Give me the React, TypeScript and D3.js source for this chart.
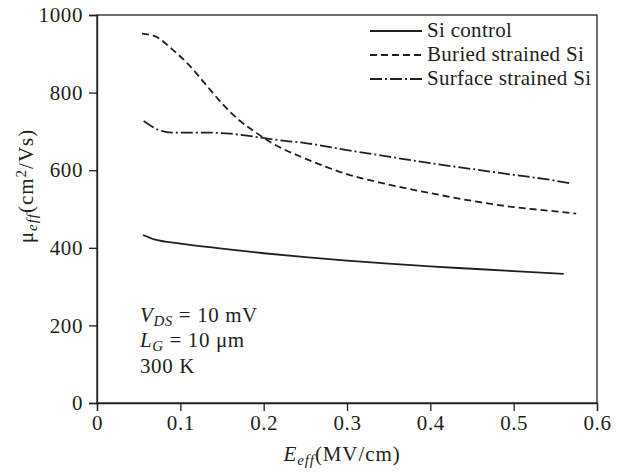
import React, { useEffect, useRef } from "react";
import * as d3 from "d3";

const xTicks = [0, 0.1, 0.2, 0.3, 0.4, 0.5, 0.6];
const yTicks = [0, 200, 400, 600, 800, 1000];

const siControlX = [0.055, 0.07, 0.1, 0.15, 0.2, 0.25, 0.3, 0.35, 0.4, 0.45, 0.5, 0.56];
const siControlY = [433, 421, 411, 398, 386, 376, 367, 359, 352, 346, 340, 333];

const buriedX = [0.054, 0.07, 0.09, 0.11, 0.13, 0.15, 0.17, 0.19, 0.21, 0.25, 0.3, 0.35, 0.4, 0.45, 0.5, 0.55, 0.575];
const buriedY = [952, 945, 912, 872, 822, 772, 730, 698, 670, 630, 590, 563, 541, 521, 505, 494, 488];

const surfaceX = [0.056, 0.075, 0.09, 0.13, 0.16, 0.19, 0.22, 0.25, 0.3, 0.35, 0.4, 0.45, 0.5, 0.55, 0.57];
const surfaceY = [727, 703, 697, 697, 694, 686, 677, 670, 652, 635, 618, 603, 588, 573, 565];

const seriesNames = ["Si control", "Buried strained Si", "Surface strained Si"];
const dashes = ["none", "7,4", "12,3,2,3"];

const W = 625, H = 472;
const M = { left: 97, right: 28, top: 15, bottom: 69 };
const FONT = "'Liberation Serif', 'Times New Roman', serif";
const FS = "21px";
const SUB = "15px";
const LS = "0.6px";

export default function App() {
  const ref = useRef<SVGSVGElement>(null);
  useEffect(() => {
    const svg = d3.select(ref.current);
    svg.selectAll("*").remove();
    const x = d3.scaleLinear().domain([0, 0.6]).range([M.left, W - M.right]);
    const y = d3.scaleLinear().domain([0, 1000]).range([H - M.bottom, M.top]);
    const col = "#231f20";

    svg.append("rect").attr("x", x(0)).attr("y", y(1000)).attr("width", x(0.6) - x(0)).attr("height", y(0) - y(1000))
      .attr("fill", "none").attr("stroke", col).attr("stroke-width", 1.3);

    const xa = svg.append("g").attr("transform", `translate(0,${y(0)})`)
      .call(d3.axisBottom(x).tickValues(xTicks).tickSize(8).tickPadding(4).tickFormat(d3.format("")) as any);
    const ya = svg.append("g").attr("transform", `translate(${x(0)},0)`)
      .call(d3.axisLeft(y).tickValues(yTicks).tickSize(8).tickPadding(6).tickFormat(d3.format("")) as any);
    [xa, ya].forEach((a) => {
      a.select(".domain").attr("stroke", col).attr("stroke-width", 1.3);
      a.selectAll(".tick line").attr("stroke", col).attr("stroke-width", 1.3);
      a.selectAll(".tick text").attr("fill", col).style("font-family", FONT).style("font-size", FS)
        .style("letter-spacing", LS);
    });

    const data = [
      d3.zip(siControlX, siControlY),
      d3.zip(buriedX, buriedY),
      d3.zip(surfaceX, surfaceY),
    ];
    const line = d3.line<number[]>().x((d) => x(d[0])).y((d) => y(d[1])).curve(d3.curveMonotoneX);
    data.forEach((pts, i) => {
      svg.append("path").attr("d", line(pts as any)).attr("fill", "none").attr("stroke", col)
        .attr("stroke-width", 1.8).attr("stroke-dasharray", dashes[i]);
    });

    const lg = svg.append("g");
    seriesNames.forEach((n, i) => {
      const cy = 31 + i * 24;
      lg.append("line").attr("x1", 370).attr("x2", 422).attr("y1", cy).attr("y2", cy)
        .attr("stroke", col).attr("stroke-width", 1.8).attr("stroke-dasharray", dashes[i]);
      lg.append("text").attr("x", 427).attr("y", cy + 6).text(n).attr("fill", col)
        .style("font-family", FONT).style("font-size", FS).style("letter-spacing", "0.3px");
    });

    const ann = svg.append("g").style("font-family", FONT).style("font-size", FS).style("letter-spacing", LS).attr("fill", col);
    const t1 = ann.append("text").attr("x", 140).attr("y", 322);
    t1.append("tspan").attr("font-style", "italic").text("V");
    t1.append("tspan").attr("font-style", "italic").style("font-size", SUB).attr("dy", 4).text("DS");
    t1.append("tspan").attr("dy", -4).text(" = 10 mV");
    const t2 = ann.append("text").attr("x", 140).attr("y", 347);
    t2.append("tspan").attr("font-style", "italic").text("L");
    t2.append("tspan").attr("font-style", "italic").style("font-size", SUB).attr("dy", 4).text("G");
    t2.append("tspan").attr("dy", -4).text(" = 10 μm");
    ann.append("text").attr("x", 140).attr("y", 373).text("300 K");

    const xl = svg.append("text").attr("x", 342).attr("y", 461).attr("text-anchor", "middle")
      .style("font-family", FONT).style("font-size", FS).style("letter-spacing", "0.9px").attr("fill", col);
    xl.append("tspan").attr("font-style", "italic").text("E");
    xl.append("tspan").attr("font-style", "italic").style("font-size", SUB).attr("dy", 4).text("eff");
    xl.append("tspan").attr("dy", -4).text("(MV/cm)");

    const yl = svg.append("text").attr("transform", `translate(33,186) rotate(-90)`)
      .attr("text-anchor", "middle").style("font-family", FONT).style("font-size", FS).style("letter-spacing", "1px").attr("fill", col);
    yl.append("tspan").text("μ");
    yl.append("tspan").attr("font-style", "italic").style("font-size", SUB).attr("dy", 4).text("eff");
    yl.append("tspan").attr("dy", -4).text("(cm");
    yl.append("tspan").style("font-size", SUB).attr("dy", -7).text("2");
    yl.append("tspan").attr("dy", 7).text("/Vs)");
  }, []);
  return (
    <svg ref={ref} width={W} height={H} style={{ position: "absolute", left: 0, top: 0, background: "#fff" }} />
  );
}
